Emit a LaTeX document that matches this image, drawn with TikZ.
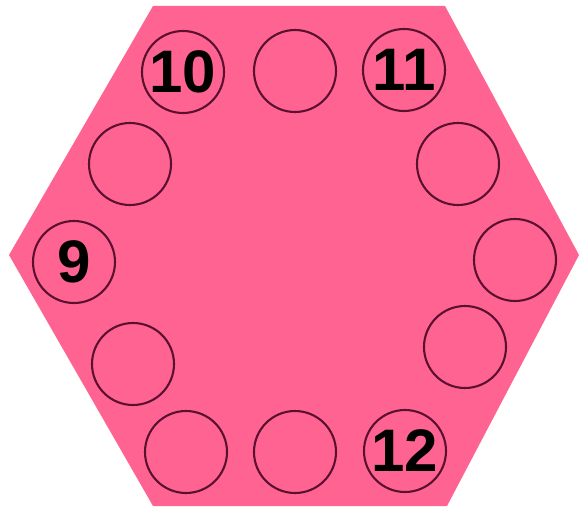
\documentclass[tikz,border=0pt]{standalone}
\usepackage{fontspec}
\setmainfont{Liberation Sans}
\definecolor{hexpink}{RGB}{255,99,145}
\definecolor{ringcol}{RGB}{90,16,48}
\begin{document}
\begin{tikzpicture}[x=1pt,y=-1pt,
  ring/.style={circle,draw=ringcol,line width=2.1pt,minimum size=82pt,inner sep=0pt,
    font=\fontsize{60}{60}\selectfont\bfseries,text=black}]
\useasboundingbox (0,0) rectangle (580,508);
\fill[hexpink] (153,6) -- (445,6) -- (579,255) -- (447,506) -- (153,506) -- (9,255) -- cycle;
\node[ring] (c10) at (183,72) {10};
\node[ring] (ct) at (295,71) {};
\node[ring] (c11) at (404,70) {11};
\node[ring] (cul) at (130,164) {};
\node[ring] (cur) at (458,164) {};
\node[ring] (c9) at (74,262) {9};
\node[ring] (cr) at (515,260) {};
\node[ring] (cll) at (133,364) {};
\node[ring] (clr) at (465,347) {};
\node[ring] (cbl) at (186,452) {};
\node[ring] (cb) at (295,452) {};
\node[ring] (c12) at (405,451) {12};
\end{tikzpicture}
\end{document}
